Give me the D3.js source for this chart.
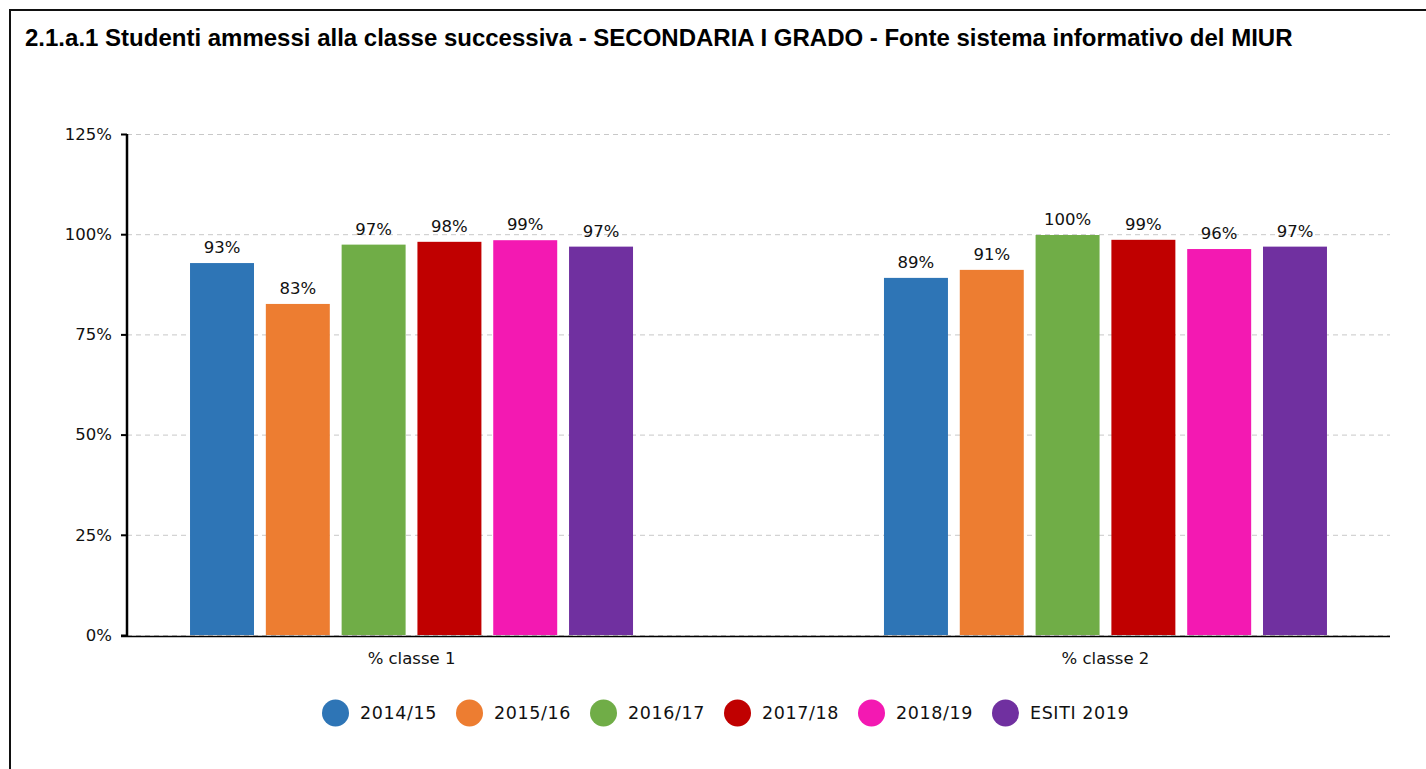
<!doctype html>
<html lang="it">
<head>
    <meta charset="utf-8">
    <title>2.1.a.1 Studenti ammessi alla classe successiva</title>
    <script src="https://cdn.jsdelivr.net/npm/d3@7"></script>
    <style>
        body { margin: 0; background: #fff; }
        svg { display: block; }
        .tick text, .lbl, .legend text { font-family: "DejaVu Sans", sans-serif; fill: #111; }
    </style>
</head>
<body>
<svg></svg>
<script>
    var categories = ['% classe 1', '% classe 2'];
    var series = ['2014/15', '2015/16', '2016/17', '2017/18', '2018/19', 'ESITI 2019'];
    // values per series, one per category
    var values = [
        [92.8, 89.1],
        [82.6, 91.1],
        [97.4, 99.8],
        [98.1, 98.6],
        [98.5, 96.3],
        [96.9, 96.9]
    ];
    var colors = ['#2E75B6', '#ED7D31', '#70AD47', '#C00000', '#F319B2', '#7030A0'];
    var yTicks = [0, 25, 50, 75, 100, 125];

    var width = 1426, height = 769;
    var plotLeft = 127, plotRight = 1390, plotTop = 134, plotBottom = 635;

    var svg = d3.select('svg').attr('width', width).attr('height', height);

    // frame
    svg.append('rect')
        .attr('x', 10).attr('y', 10)
        .attr('width', width + 20).attr('height', height + 20)
        .attr('fill', 'none').attr('stroke', '#111').attr('stroke-width', 2);

    svg.append('text')
        .attr('x', 25).attr('y', 46)
        .attr('font-family', 'Liberation Sans, Arial, sans-serif')
        .attr('font-weight', 'bold')
        .attr('font-size', '24px')
        .attr('fill', '#000')
        .text('2.1.a.1 Studenti ammessi alla classe successiva - SECONDARIA I GRADO - Fonte sistema informativo del MIUR');

    var yScale = d3.scaleLinear().domain([0, 125]).range([plotBottom, plotTop]);

    var xScale = d3.scalePoint().domain(categories).range([plotLeft, plotRight]).padding(0.41);
    var inner = d3.scaleBand().domain(series).range([-221.5, 221.5]).paddingInner(0.156);

    // grid
    svg.append('g').selectAll('line')
        .data(yTicks)
        .enter()
        .append('line')
        .attr('x1', plotLeft).attr('x2', plotRight)
        .attr('y1', function (d) { return yScale(d) + 0.5; })
        .attr('y2', function (d) { return yScale(d) + 0.5; })
        .attr('stroke', '#c8c8c8')
        .attr('stroke-dasharray', '5,4')
        .attr('stroke-width', 1);

    // bars
    var rows = function (s, i) {
        return categories.map(function (c, j) { return { c: c, s: s, v: values[i][j] }; });
    };
    var groups = svg.append('g').selectAll('g')
        .data(series)
        .enter()
        .append('g')
        .attr('fill', function (d, i) { return colors[i]; });

    groups.selectAll('rect')
        .data(rows)
        .enter()
        .append('rect')
        .attr('x', function (d) { return xScale(d.c) + inner(d.s); })
        .attr('width', inner.bandwidth())
        .attr('y', function (d) { return yScale(d.v); })
        .attr('height', function (d) { return yScale(0) - yScale(d.v); });

    groups.selectAll('text')
        .data(rows)
        .enter()
        .append('text')
        .attr('class', 'lbl')
        .attr('x', function (d) { return xScale(d.c) + inner(d.s) + inner.bandwidth() / 2; })
        .attr('y', function (d) { return yScale(d.v) - 10; })
        .attr('text-anchor', 'middle')
        .attr('font-size', '16.5px')
        .text(function (d) { return Math.round(d.v) + '%'; });

    // y axis
    var yAxis = d3.axisLeft(yScale)
        .tickValues(yTicks)
        .tickFormat(function (d) { return d + '%'; })
        .tickSize(6)
        .tickPadding(9);
    var gy = svg.append('g').attr('transform', 'translate(' + plotLeft + ',0)').call(yAxis);
    gy.select('.domain').attr('stroke', '#000').attr('stroke-width', 2.5)
        .attr('d', 'M0,' + plotTop + 'V' + (plotBottom + 2));
    gy.selectAll('.tick line').attr('stroke', '#000').attr('stroke-width', 2);
    gy.selectAll('.tick text').attr('font-size', '16.5px');

    // x axis
    svg.append('line')
        .attr('x1', plotLeft - 6).attr('x2', plotRight)
        .attr('y1', plotBottom + 1.5).attr('y2', plotBottom + 1.5)
        .attr('stroke', '#000').attr('stroke-width', 1.6);

    svg.append('g').selectAll('text')
        .data(categories)
        .enter()
        .append('text')
        .attr('class', 'lbl')
        .attr('x', function (d) { return xScale(d); })
        .attr('y', 664)
        .attr('text-anchor', 'middle')
        .attr('font-size', '16.5px')
        .text(function (d) { return d; });

    // legend
    var legend = svg.append('g').attr('class', 'legend');
    var items = legend.selectAll('g')
        .data(series)
        .enter()
        .append('g')
        .attr('transform', function (d, i) { return 'translate(' + (335.5 + i * 134) + ',713)'; });
    items.append('circle')
        .attr('r', 13.5)
        .attr('fill', function (d, i) { return colors[i]; });
    items.append('text')
        .attr('x', 24.5)
        .attr('y', 5.5)
        .attr('font-size', '17.5px')
        .attr('letter-spacing', '0.6px')
        .text(function (d) { return d; });
</script>
</body>
</html>
